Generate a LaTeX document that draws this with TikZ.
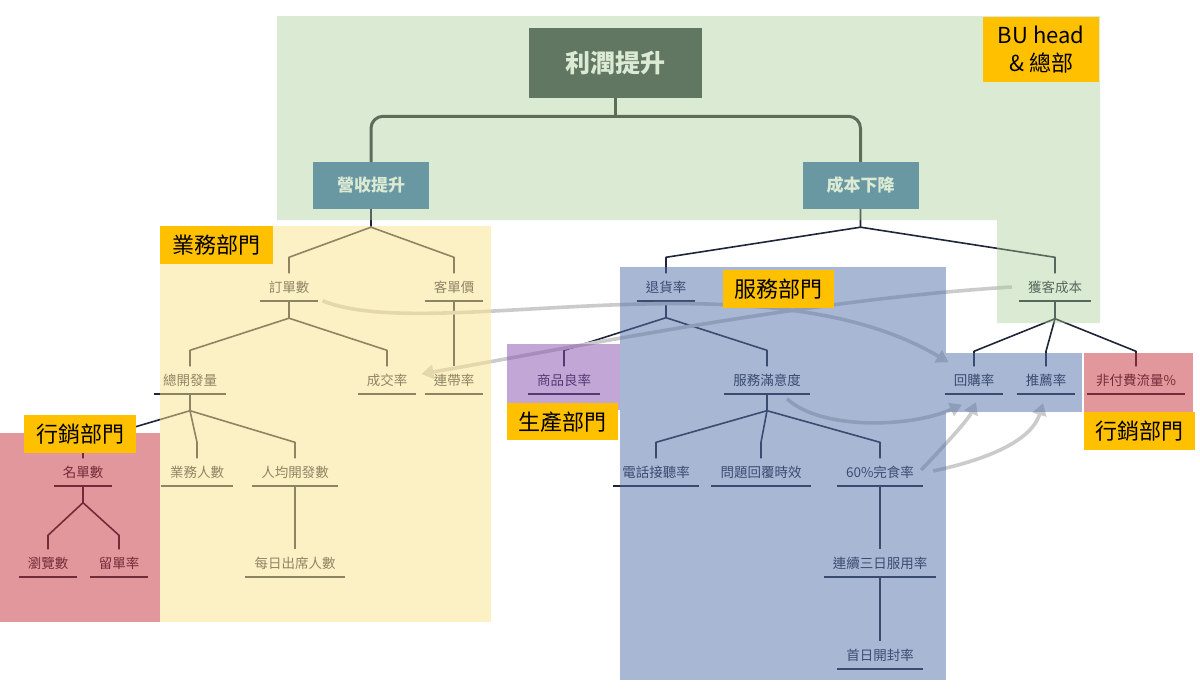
\documentclass[tikz,border=0pt]{standalone}
\usepackage{fontspec}
\setmainfont{Noto Sans CJK TC}
\usetikzlibrary{arrows.meta}
\definecolor{navy}{HTML}{20263A}
\definecolor{rootfill}{HTML}{343E41}
\definecolor{midfill}{HTML}{4175AF}
\definecolor{rootline}{HTML}{2D3032}
\definecolor{arrowgray}{HTML}{CBCBCB}
\definecolor{ovgreen}{HTML}{A7CD93}
\definecolor{ovyellow}{HTML}{FBE38D}
\definecolor{ovpink}{HTML}{C53139}
\definecolor{ovblue}{HTML}{5371A9}
\definecolor{ovpurple}{HTML}{874FAF}
\definecolor{deptorange}{HTML}{FFC000}
\begin{document}
\begin{tikzpicture}[x=1pt,y=-1pt,
  tn/.style={font=\fontsize{13.5}{16}\selectfont, text=navy, inner xsep=9pt, inner ysep=0pt, minimum height=27pt},
  ul/.style={draw=navy, line width=1.9pt},
  conn/.style={draw=navy, line width=1.6pt, line join=round},
  rootbox/.style={fill=rootfill, text=white, font=\bfseries\fontsize{25}{30}\selectfont, inner sep=0pt},
  midbox/.style={fill=midfill, text=white, font=\bfseries\fontsize{17}{20}\selectfont, inner sep=0pt},
  rootconn/.style={draw=rootline, line width=3pt},
  garrow/.style={draw=arrowgray, line width=3.6pt, -{Triangle[length=12pt,width=14pt]}},
  dept/.style={fill=deptorange, text=black, font=\fontsize{22}{28}\selectfont, inner sep=0pt, anchor=north west}
]
\useasboundingbox (0,0) rectangle (1200,696);
\fill[white] (0,0) rectangle (1200,696);

% ---------- top boxes ----------
\node[rootbox, minimum width=173pt, minimum height=70pt] (root) at (615.5,63) {利潤提升};
\node[midbox, minimum width=116pt, minimum height=47pt] (ys) at (371,185.5) {營收提升};
\node[midbox, minimum width=116pt, minimum height=47pt] (cb) at (860.5,185.5) {成本下降};
\draw[rootconn] (root.south) -- ++(0,18.5);
\draw[rootconn, rounded corners=12pt] (ys.north) -- ([yshift=45.5pt]ys.north) -- ([yshift=45.5pt]cb.north) -- (cb.north);

% ---------- tree nodes ----------
\node[tn] (dd) at (289,287) {訂單數};
\node[tn] (kd) at (454,287) {客單價};
\node[tn] (zk) at (190,380) {總開發量};
\node[tn] (cj) at (387,380) {成交率};
\node[tn] (ld) at (454,380) {連帶率};
\node[tn] (ms) at (83,472) {名單數};
\node[tn] (yw) at (197,472) {業務人數};
\node[tn] (rj) at (295,472) {人均開發數};
\node[tn] (ll) at (48,563) {瀏覽數};
\node[tn] (lv) at (119,563) {留單率};
\node[tn] (mr) at (295,563) {每日出席人數};
\node[tn] (th) at (666,287) {退貨率};
\node[tn] (hk) at (1055,287) {獲客成本};
\node[tn] (sp) at (564,380) {商品良率};
\node[tn] (fw) at (767,380) {服務滿意度};
\node[tn] (dh) at (656,472) {電話接聽率};
\node[tn] (wt) at (761,472) {問題回覆時效};
\node[tn] (wc) at (880,472) {60\%完食率};
\node[tn] (lx) at (880,563) {連續三日服用率};
\node[tn] (sr) at (880,655) {首日開封率};
\node[tn] (hg) at (974,380) {回購率};
\node[tn] (tj) at (1046,380) {推薦率};
\node[tn] (ff) at (1136,380) {非付費流量\%};

\foreach \n in {dd,kd,zk,cj,ld,ms,yw,rj,ll,lv,mr,th,hk,sp,fw,dh,wt,wc,lx,sr,hg,tj,ff}
  \draw[ul] (\n.south west) -- (\n.south east);

% ---------- connectors ----------
\draw[conn] (ys.south) -- ++(0,18) coordinate (f0) -- ([yshift=16pt]dd.north) -- (dd.north);
\draw[conn] (f0) -- ([yshift=16pt]kd.north) -- (kd.north);
\draw[conn] (dd.south) -- ++(0,17.5) coordinate (f1) -- ([yshift=16pt]zk.north) -- (zk.north);
\draw[conn] (f1) -- ([yshift=16pt]cj.north) -- (cj.north);
\draw[conn] (kd.south) -- (ld.north);
\draw[conn] (zk.south) -- ++(0,17) coordinate (f2) -- ([yshift=16pt]yw.north) -- (yw.north);
\draw[conn] (f2) -- ([yshift=16pt]rj.north) -- (rj.north);
\draw[conn] (f2) -- ([yshift=16pt]ms.north) -- (ms.north);
\draw[conn] (ms.south) -- ++(0,17) coordinate (f3) -- ([yshift=14pt]ll.north) -- (ll.north);
\draw[conn] (f3) -- ([yshift=14pt]lv.north) -- (lv.north);
\draw[conn] (rj.south) -- (mr.north);

\draw[conn] (cb.south) -- ++(0,18) coordinate (g0) -- ([yshift=16pt]th.north) -- (th.north);
\draw[conn] (g0) -- ([yshift=16pt]hk.north) -- (hk.north);
\draw[conn] (th.south) -- ++(0,17) coordinate (g1) -- ([yshift=16pt]sp.north) -- (sp.north);
\draw[conn] (g1) -- ([yshift=16pt]fw.north) -- (fw.north);
\draw[conn] (fw.south) -- ++(0,17) coordinate (g2) -- ([yshift=16pt]dh.north) -- (dh.north);
\draw[conn] (g2) -- ([yshift=16pt]wt.north) -- (wt.north);
\draw[conn] (g2) -- ([yshift=16pt]wc.north) -- (wc.north);
\draw[conn] (wc.south) -- (lx.north);
\draw[conn] (lx.south) -- (sr.north);
\draw[conn] (hk.south) -- ++(0,18) coordinate (g3) -- ([yshift=15pt]hg.north) -- (hg.north);
\draw[conn] (g3) -- ([yshift=15pt]tj.north) -- (tj.north);
\draw[conn] (g3) -- ([yshift=15pt]ff.north) -- (ff.north);

% ---------- gray cross arrows ----------
\draw[garrow] ([xshift=4pt]dd.south east) .. controls (430,345) and (760,250) .. ([shift={(4pt,4pt)}]hg.north west);
\draw[garrow] ([xshift=-7pt]hk.west) .. controls (800,300) and (560,350) .. ([shift={(5pt,6pt)}]cj.east);
\draw[garrow] ([shift={(20pt,-5pt)}]fw.south) .. controls (820,430) and (910,428) .. ([shift={(-12pt,-11pt)}]hg.south);
\draw[garrow] ([shift={(-2pt,2pt)}]wc.east) .. controls (945,445) and (968,420) .. ([shift={(2pt,-8.5pt)}]hg.south);
\draw[garrow] ([shift={(10pt,1pt)}]wc.east) .. controls (975,462) and (1030,445) .. ([shift={(-3pt,-9.5pt)}]tj.south);

% ---------- department overlays ----------
\fill[ovgreen, fill opacity=0.4] (277,16) -- (1100,16) -- (1100,323) -- (997,323) -- (997,220) -- (277,220) -- cycle;
\fill[ovyellow, fill opacity=0.5] (160,226) rectangle (491,622);
\fill[ovpink, fill opacity=0.5] (0,433) rectangle (160,622);
\fill[ovblue, fill opacity=0.5] (620,267) rectangle (946,680);
\fill[ovblue, fill opacity=0.5] (946,353) rectangle (1082,412);
\fill[ovpink, fill opacity=0.5] (1084,353) rectangle (1193,412);
\fill[ovpurple, fill opacity=0.5] (507,344) rectangle (620,410);

% ---------- department labels ----------
\node[dept, minimum width=116pt, minimum height=65pt, align=center] (bu) at (983,17) {BU head\\\& 總部};
\node[dept, minimum width=113pt, minimum height=38pt] (lyw) at (160,226) {業務部門};
\node[dept, minimum width=112pt, minimum height=38pt] (lmk1) at (24,415) {行銷部門};
\node[dept, minimum width=111pt, minimum height=38pt] (lfw) at (723,270) {服務部門};
\node[dept, minimum width=111pt, minimum height=37pt] (lsc) at (507,403) {生產部門};
\node[dept, minimum width=111pt, minimum height=38pt] (lmk2) at (1084,412) {行銷部門};
\end{tikzpicture}
\end{document}
